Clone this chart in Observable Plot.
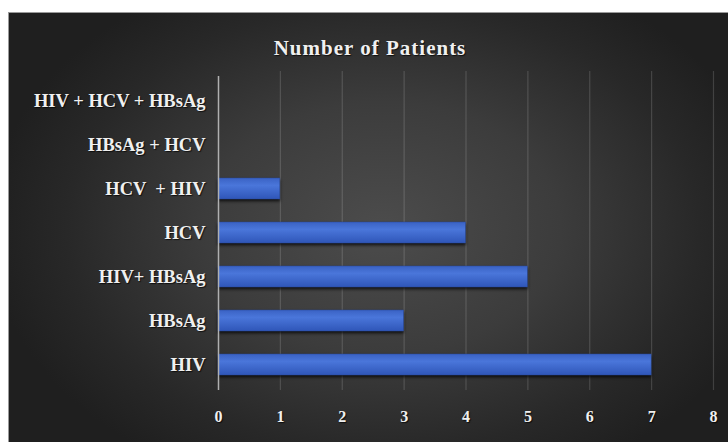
<!DOCTYPE html>
<html>
<head>
<meta charset="utf-8">
<script src="https://cdn.jsdelivr.net/npm/d3@7"></script>
<script src="https://cdn.jsdelivr.net/npm/@observablehq/plot@0.6"></script>
<style>
  html, body { margin: 0; padding: 0; background: #fff; }
  #wrap { position: relative; width: 728px; height: 442px; overflow: hidden; }
  #bg {
    position: absolute; left: 8px; top: 12px; width: 720px; height: 430px;
    background: radial-gradient(ellipse 55% 65% at 52% 50%, #4c4c4c 0%, #3c3c3c 45%, #282828 80%, #1f1f1f 100%);
    border-top: 1px solid #9a9a9a; border-left: 1px solid #9a9a9a; box-sizing: border-box;
  }
  #title {
    position: absolute; left: 8px; width: 724px; top: 36px; line-height: 24px; text-align: center;
    font-family: "Liberation Serif", serif; font-weight: bold; font-size: 21px; color: #f0f0f0;
    letter-spacing: 1px; text-shadow: 1px 1px 1px rgba(0,0,0,0.7);
  }
  #chart { position: absolute; left: 0; top: 0; }
</style>
</head>
<body>
<div id="wrap">
  <div id="bg"></div>
  <div id="title">Number of Patients</div>
  <div id="chart"></div>
</div>
<script>
const categories = ["HIV + HCV + HBsAg", "HBsAg + HCV", "HCV  + HIV", "HCV", "HIV+ HBsAg", "HBsAg", "HIV"];
const patients = [0, 0, 1, 4, 5, 3, 7];
const xTicks = [0, 1, 2, 3, 4, 5, 6, 7, 8];

const data = categories.map((c, i) => ({category: c, value: patients[i]}));

const plot = Plot.plot({
  width: 728,
  height: 442,
  marginLeft: 218,
  marginRight: 15,
  marginTop: 76,
  marginBottom: 52,
  style: {background: "transparent", color: "#f0f0f0", fontFamily: "Liberation Serif, serif", overflow: "visible"},
  x: {domain: [0, 8], ticks: xTicks, label: null},
  y: {domain: categories, paddingInner: 0.52, paddingOuter: 0.26, label: null},
  marks: [
    Plot.ruleX(xTicks.filter(d => d > 0), {stroke: "#ffffff", strokeOpacity: 0.15, strokeWidth: 1.2, insetTop: -5}),
    Plot.barX(data, {x: "value", y: "category", fill: "url(#barGrad)", stroke: "#2a4a9a", strokeWidth: 0.5}),
    Plot.ruleX([0], {stroke: "#b0b0b0", strokeWidth: 1.5}),
    Plot.axisX({ticks: xTicks, tickSize: 0, tickPadding: 20, fontSize: 16, fontWeight: "bold", fill: "#f0f0f0", label: null}),
    Plot.axisY({tickSize: 0, tickPadding: 13, fontSize: 18.5, fontWeight: "bold", fill: "#f0f0f0", label: null})
  ]
});

const svg = d3.select(plot);
const defs = svg.insert("defs", ":first-child");
const g = defs.append("linearGradient").attr("id", "barGrad").attr("x1", 0).attr("y1", 0).attr("x2", 0).attr("y2", 1);
g.append("stop").attr("offset", "0%").attr("stop-color", "#3a62c4");
g.append("stop").attr("offset", "35%").attr("stop-color", "#4a76da");
g.append("stop").attr("offset", "100%").attr("stop-color", "#2f56b8");
svg.selectAll("rect").style("filter", "drop-shadow(0px 2px 1.5px rgba(0,0,0,0.75))");
svg.selectAll("text").style("text-shadow", "1px 1px 1px rgba(0,0,0,0.7)");

document.getElementById("chart").appendChild(plot);
</script>
</body>
</html>
